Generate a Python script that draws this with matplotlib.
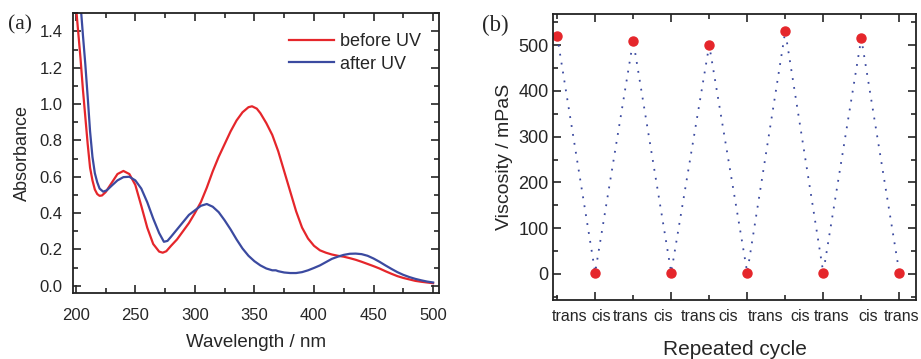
import matplotlib
matplotlib.use("Agg")
import matplotlib.pyplot as plt
from matplotlib.ticker import MultipleLocator, FixedLocator, NullFormatter

# (a) UV-vis spectra
wl_before = [200, 202, 204, 206, 208, 210, 212, 214, 216, 218, 220, 222, 225, 230, 235,
             240, 245, 250, 255, 260, 265, 270, 273, 276, 280, 285, 290, 295, 300, 305,
             310, 315, 320, 325, 330, 335, 340, 345, 348, 352, 355, 360, 365, 370, 375,
             380, 385, 390, 395, 400, 405, 410, 415, 420, 425, 430, 435, 440, 445, 450,
             455, 460, 465, 470, 475, 480, 485, 490, 495, 500]
abs_before = [1.55, 1.40, 1.25, 1.08, 0.93, 0.78, 0.65, 0.58, 0.53, 0.505, 0.495, 0.497, 0.515, 0.565, 0.615,
              0.632, 0.615, 0.555, 0.44, 0.32, 0.23, 0.188, 0.182, 0.19, 0.22, 0.255, 0.30, 0.345, 0.40, 0.46,
              0.54, 0.63, 0.71, 0.78, 0.85, 0.91, 0.955, 0.983, 0.988, 0.975, 0.95, 0.895, 0.83, 0.74, 0.63,
              0.52, 0.41, 0.32, 0.26, 0.22, 0.195, 0.182, 0.172, 0.165, 0.16, 0.152, 0.143, 0.132, 0.12, 0.108,
              0.095, 0.08, 0.066, 0.053, 0.043, 0.035, 0.027, 0.022, 0.018, 0.014]

wl_after = [204, 206, 208, 210, 212, 214, 216, 218, 220, 223, 226, 230, 235, 240, 245,
            250, 255, 260, 265, 270, 274, 277, 280, 285, 290, 295, 300, 305, 310, 315,
            320, 325, 330, 335, 340, 345, 350, 355, 360, 365, 368, 370, 375, 380, 385,
            390, 395, 400, 405, 410, 415, 420, 425, 430, 435, 440, 445, 450, 455, 460,
            465, 470, 475, 480, 485, 490, 495, 500]
abs_after = [1.55, 1.38, 1.22, 1.04, 0.85, 0.71, 0.62, 0.57, 0.535, 0.518, 0.525, 0.55, 0.58, 0.598, 0.60,
             0.58, 0.535, 0.46, 0.37, 0.29, 0.242, 0.247, 0.27, 0.31, 0.35, 0.39, 0.415, 0.44, 0.45, 0.435,
             0.405, 0.36, 0.31, 0.255, 0.205, 0.165, 0.135, 0.112, 0.095, 0.085, 0.085, 0.08, 0.073, 0.07, 0.07,
             0.075, 0.085, 0.098, 0.112, 0.13, 0.148, 0.16, 0.17, 0.176, 0.177, 0.174, 0.165, 0.15, 0.132, 0.112,
             0.093, 0.075, 0.06, 0.048, 0.038, 0.03, 0.023, 0.018]

# (b) viscosity over switching cycles
cycle = [0, 1, 2, 3, 4, 5, 6, 7, 8, 9]
viscosity = [520, 3, 510, 3, 500, 3, 530, 3, 515, 3]
state_labels = ['trans', 'cis', 'trans', 'cis', 'trans', 'cis', 'trans', 'cis', 'trans', 'cis', 'trans']
label_pos = [0.33, 1.17, 1.94, 2.80, 3.72, 4.51, 5.48, 6.39, 7.22, 8.18, 9.06]

RED = '#e5262b'
BLUE = '#3b4aa0'
TXT = '#262626'

plt.rcParams['font.family'] = ['Liberation Sans', 'DejaVu Sans']
plt.rcParams['text.color'] = TXT
plt.rcParams['axes.labelcolor'] = TXT
plt.rcParams['xtick.color'] = TXT
plt.rcParams['ytick.color'] = TXT
plt.rcParams['axes.edgecolor'] = '#222222'


def style_axes(ax, fs):
    for s in ax.spines.values():
        s.set_linewidth(1.3)
    ax.tick_params(which='both', direction='in', top=True, right=True, width=1.2, labelsize=fs)
    ax.tick_params(which='major', length=6)
    ax.tick_params(which='minor', length=3.5)


fig = plt.figure(figsize=(9.21, 3.59), dpi=100)

# ---- panel (a)
ax1 = fig.add_axes([0.0793, 0.1838, 0.3974, 0.7792])
ax1.plot(wl_before, abs_before, color=RED, lw=1.6, label='before UV')
ax1.plot(wl_after, abs_after, color=BLUE, lw=1.6, label='after UV')
ax1.set_xlim(197.7, 505)
ax1.set_ylim(-0.04, 1.5)
ax1.xaxis.set_major_locator(MultipleLocator(50))
ax1.xaxis.set_minor_locator(MultipleLocator(25))
ax1.yaxis.set_major_locator(FixedLocator([0.0, 0.2, 0.4, 0.6, 0.8, 1.0, 1.2, 1.4]))
ax1.yaxis.set_minor_locator(MultipleLocator(0.1))
ax1.yaxis.set_major_formatter(matplotlib.ticker.FormatStrFormatter('%.1f'))
style_axes(ax1, 12)
ax1.tick_params(axis='x', pad=11)
ax1.tick_params(axis='y', pad=7.5)
ax1.set_xlabel('Wavelength / nm', fontsize=13.5, labelpad=8)
ax1.set_ylabel('Absorbance', fontsize=13, labelpad=6)
ax1.legend(frameon=False, loc='upper right', bbox_to_anchor=(0.97, 0.955), fontsize=13,
           handlelength=2.5, handletextpad=0.3, labelspacing=0.3, borderaxespad=0)
fig.text(0.009, 0.93, '(a)', fontsize=15.5, family=['Liberation Serif', 'DejaVu Serif'], va='center')

# ---- panel (b)
ax2 = fig.add_axes([0.6008, 0.1643, 0.3934, 0.7967])
ax2.plot(cycle, viscosity, color=BLUE, lw=1.3, linestyle=(0, (1, 4)))
ax2.plot(cycle, viscosity, 'o', color=RED, ms=6.5, mec=RED)
ax2.set_xlim(-0.1, 9.43)
ax2.set_ylim(-57, 568)
ax2.xaxis.set_major_locator(FixedLocator([1, 3, 5, 7, 9]))
ax2.xaxis.set_minor_locator(FixedLocator([0, 2, 4, 6, 8]))
ax2.xaxis.set_major_formatter(NullFormatter())
ax2.yaxis.set_major_locator(MultipleLocator(100))
ax2.yaxis.set_minor_locator(MultipleLocator(50))
style_axes(ax2, 13)
for lab, xp in zip(state_labels, label_pos):
    ax2.text(xp, -0.057, lab, transform=ax2.get_xaxis_transform(), ha='center', va='center', fontsize=11.5)
ax2.set_xlabel('Repeated cycle', fontsize=15, labelpad=25)
ax2.set_ylabel('Viscosity / mPaS', fontsize=14, labelpad=4)
fig.text(0.523, 0.93, '(b)', fontsize=16.5, family=['Liberation Serif', 'DejaVu Serif'], va='center')

fig.savefig('out.png', dpi=100)
